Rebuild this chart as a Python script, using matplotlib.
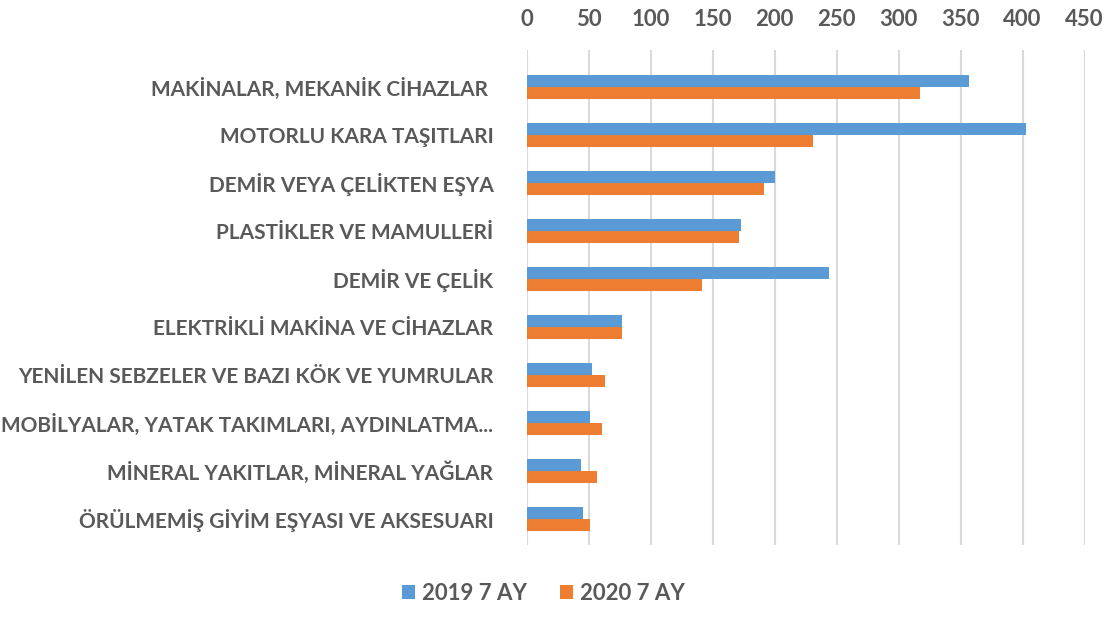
import matplotlib.pyplot as plt
import numpy as np

# Veriler
kategoriler = ["MAKİNALAR, MEKANİK CİHAZLAR ", "MOTORLU KARA TAŞITLARI", "DEMİR VEYA ÇELİKTEN EŞYA",
               "PLASTİKLER VE MAMULLERİ", "DEMİR VE ÇELİK", "ELEKTRİKLİ MAKİNA VE CİHAZLAR",
               "YENİLEN SEBZELER VE BAZI KÖK VE YUMRULAR", "MOBİLYALAR, YATAK TAKIMLARI, AYDINLATMA...",
               "MİNERAL YAKITLAR, MİNERAL YAĞLAR", "ÖRÜLMEMİŞ GİYİM EŞYASI VE AKSESUARI"]
y2019 = [357, 403, 200, 173, 244, 77, 53, 51, 44, 45]
y2020 = [317, 231, 191, 171, 141, 77, 63, 61, 57, 51]
seriler = ["2019 7 AY", "2020 7 AY"]
x_ticks = [0, 50, 100, 150, 200, 250, 300, 350, 400, 450]

plt.rcParams['font.family'] = ['Lato', 'DejaVu Sans']
gri = '#595959'

fig = plt.figure(figsize=(11.09, 6.24), dpi=100)
ax = fig.add_axes([0.475, 0.127, 0.503, 0.793])

pos = np.arange(len(kategoriler))
h = 0.25
ax.barh(pos - h / 2, y2019, height=h, color='#5B9BD5', label=seriler[0], zorder=3)
ax.barh(pos + h / 2, y2020, height=h, color='#ED7D31', label=seriler[1], zorder=3)

ax.set_xlim(0, 450)
ax.set_ylim(9.54, -0.77)
ax.set_xticks(x_ticks)
ax.xaxis.tick_top()
ax.set_yticks(pos)
ax.set_yticklabels(kategoriler)
ax.tick_params(axis='x', length=0, pad=14, labelsize=16, labelcolor=gri)
ax.tick_params(axis='y', length=0, pad=24, labelsize=15, labelcolor=gri)
for t in ax.get_xticklabels() + ax.get_yticklabels():
    t.set_fontweight('bold')
ax.grid(axis='x', color='#d9d9d9', linewidth=1.5, zorder=0)
for s in ax.spines.values():
    s.set_visible(False)

fig.legend(loc='lower center', bbox_to_anchor=(0.49, 0.0), ncol=2, frameon=False,
           prop={'size': 16, 'weight': 'bold'}, labelcolor=gri, handlelength=0.6,
           handleheight=0.6, handletextpad=0.3, columnspacing=1.5)

fig.savefig("out.png", dpi=100)
